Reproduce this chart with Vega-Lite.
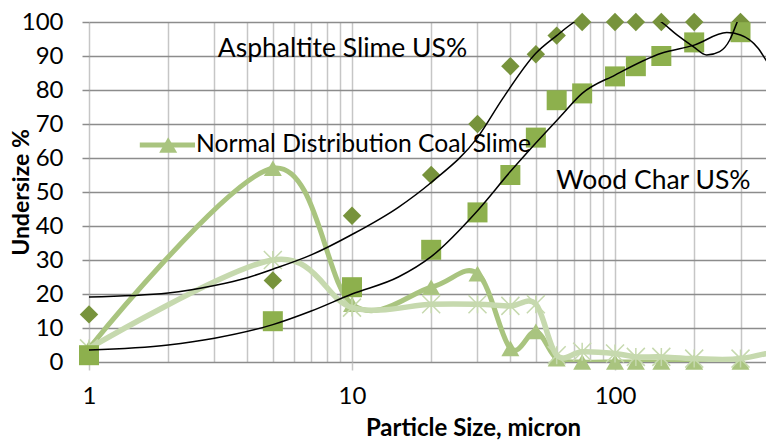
{
  "$schema": "https://vega.github.io/schema/vega-lite/v6.json",
  "width": 677,
  "height": 340,
  "autosize": {"type": "none"},
  "padding": {"left": 89, "top": 22, "right": 0, "bottom": 80},
  "background": "white",
  "config": {"view": {"stroke": null}, "font": "Lato"},
  "datasets": {
    "coal": [
      {"x": 1, "y": 4}, {"x": 5, "y": 57}, {"x": 10, "y": 17}, {"x": 20, "y": 22}, {"x": 30, "y": 26},
      {"x": 40, "y": 4}, {"x": 50, "y": 9}, {"x": 60, "y": 1}, {"x": 75, "y": 0}, {"x": 100, "y": 0},
      {"x": 120, "y": 0}, {"x": 150, "y": 0}, {"x": 200, "y": 0}, {"x": 300, "y": 0}
    ],
    "light": [
      {"x": 1, "y": 4}, {"x": 5, "y": 30}, {"x": 10, "y": 16}, {"x": 20, "y": 17}, {"x": 30, "y": 17},
      {"x": 40, "y": 16.5}, {"x": 50, "y": 17}, {"x": 60, "y": 2}, {"x": 75, "y": 3}, {"x": 100, "y": 2.5},
      {"x": 120, "y": 1.5}, {"x": 150, "y": 1.5}, {"x": 200, "y": 1}, {"x": 300, "y": 1}, {"x": 500, "y": 5}
    ],
    "asphaltite": [
      {"x": 1, "y": 14}, {"x": 5, "y": 24}, {"x": 10, "y": 43}, {"x": 20, "y": 55}, {"x": 30, "y": 70},
      {"x": 40, "y": 87}, {"x": 50, "y": 90.5}, {"x": 60, "y": 96}, {"x": 75, "y": 100}, {"x": 100, "y": 100},
      {"x": 120, "y": 100}, {"x": 150, "y": 100}, {"x": 200, "y": 100}, {"x": 300, "y": 100}
    ],
    "wood": [
      {"x": 1, "y": 2}, {"x": 5, "y": 12}, {"x": 10, "y": 22}, {"x": 20, "y": 33}, {"x": 30, "y": 44},
      {"x": 40, "y": 55}, {"x": 50, "y": 66}, {"x": 60, "y": 77}, {"x": 75, "y": 79}, {"x": 100, "y": 84},
      {"x": 120, "y": 87}, {"x": 150, "y": 90}, {"x": 200, "y": 94}, {"x": 300, "y": 97}
    ],
    "fitAsphaltite": [
      {"x": 1, "y": 19.1}, {"x": 2, "y": 20.3}, {"x": 3, "y": 22.5}, {"x": 4, "y": 24.8}, {"x": 5, "y": 27.3},
      {"x": 7, "y": 31.5}, {"x": 10, "y": 37.5}, {"x": 15, "y": 45.5}, {"x": 20, "y": 52.8}, {"x": 30, "y": 66},
      {"x": 37.5, "y": 77.6}, {"x": 50, "y": 90.8}, {"x": 60, "y": 96}, {"x": 70, "y": 100}, {"x": 85, "y": 103.5},
      {"x": 100, "y": 105}, {"x": 120, "y": 104}, {"x": 150, "y": 100}, {"x": 172, "y": 96.2}, {"x": 199, "y": 92.7},
      {"x": 223, "y": 90.3}, {"x": 250, "y": 91.3}, {"x": 273, "y": 94.7}, {"x": 290, "y": 99.6}, {"x": 320, "y": 108},
      {"x": 400, "y": 125}
    ],
    "fitWood": [
      {"x": 1, "y": 3.5}, {"x": 2, "y": 5}, {"x": 3, "y": 7}, {"x": 5, "y": 11}, {"x": 7, "y": 15},
      {"x": 10, "y": 20}, {"x": 15, "y": 25}, {"x": 20, "y": 31}, {"x": 30, "y": 44.5}, {"x": 40, "y": 56},
      {"x": 50, "y": 64.4}, {"x": 62, "y": 72.2}, {"x": 75, "y": 79}, {"x": 100, "y": 84.4}, {"x": 150, "y": 90.8},
      {"x": 200, "y": 93.2}, {"x": 266, "y": 96.9}, {"x": 300, "y": 96.2}, {"x": 350, "y": 92.3}, {"x": 375, "y": 88.8},
      {"x": 420, "y": 83}
    ],
    "labels": [
      {"x": 9.2, "y": 92, "label": "Asphaltite Slime US%"},
      {"x": 140, "y": 53.2, "label": "Wood Char US%"}
    ],
    "keyLabel": [
      {"x": 11.06, "y": 63.8, "label": "Normal Distribution Coal Slime"}
    ],
    "keyLine": [{"x": 1.56, "y": 63.8}, {"x": 2.53, "y": 63.8}],
    "keyMark": [{"x": 2.0, "y": 63.8}]
  },
  "encoding": {
    "x": {
      "field": "x", "type": "quantitative",
      "scale": {"type": "log", "domain": [1, 375], "nice": false},
      "axis": {
        "title": "Particle Size, micron",
        "values": [1, 2, 3, 4, 5, 6, 7, 8, 9, 10, 20, 30, 40, 50, 60, 70, 80, 90, 100, 200, 300],
        "labelExpr": "(datum.value == 1 || datum.value == 10 || datum.value == 100) ? format(datum.value, 'd') : ''",
        "grid": true, "gridColor": "#c6c6c6", "gridWidth": 1.5,
        "domain": false,
        "tickSize": 8, "tickWidth": 1.5,
        "tickColor": {"condition": {"test": "datum.value == 1 || datum.value == 10 || datum.value == 100", "value": "#c6c6c6"}, "value": "transparent"},
        "labelPadding": 14, "labelFontSize": 24, "labelFont": "Lato", "labelColor": "#000000",
        "labelFlush": false, "labelOverlap": false,
        "titleFontSize": 24, "titleFont": "Lato", "titleFontWeight": "bold", "titleColor": "#000000", "titlePadding": 8,
        "titleX": 384, "titleAlign": "center", "titleAnchor": "start"
      }
    },
    "y": {
      "field": "y", "type": "quantitative",
      "scale": {"domain": [0, 100], "nice": false},
      "axis": {
        "title": "Undersize %",
        "values": [0, 10, 20, 30, 40, 50, 60, 70, 80, 90, 100],
        "grid": true, "gridColor": "#8c8c8c", "gridWidth": 1.5,
        "domain": false,
        "tickSize": 7, "tickWidth": 1.5, "tickColor": "#8c8c8c",
        "labelPadding": 19, "labelFontSize": 24, "labelFont": "Lato", "labelColor": "#000000",
        "labelFlush": false, "labelOverlap": false,
        "titleFontSize": 23, "titleFont": "Lato", "titleFontWeight": "bold", "titleColor": "#000000", "titlePadding": -12
      }
    }
  },
  "layer": [
    {"data": {"name": "coal"}, "mark": {"type": "line", "interpolate": "cardinal", "color": "#A9C47F", "strokeWidth": 5, "clip": true}},
    {"data": {"name": "coal"}, "mark": {"type": "point", "shape": "triangle-up", "filled": true, "size": 324, "color": "#A9C47F", "opacity": 1}},
    {"data": {"name": "light"}, "mark": {"type": "line", "interpolate": "cardinal", "color": "#C6D9AE", "strokeWidth": 5.5, "clip": true}},
    {"data": {"name": "light"}, "transform": [{"filter": "datum.x <= 300"}], "mark": {"type": "point", "shape": "M-1,-1L1,1M-1,1L1,-1M0,-1L0,1", "filled": false, "size": 324, "color": "#C6D9AE", "strokeWidth": 1.5, "opacity": 1}},
    {"data": {"name": "asphaltite"}, "mark": {"type": "point", "shape": "diamond", "filled": true, "size": 340, "color": "#77933C", "opacity": 1}},
    {"data": {"name": "wood"}, "mark": {"type": "point", "shape": "square", "filled": true, "size": 400, "color": "#8DB04D", "opacity": 1}},
    {"data": {"name": "fitAsphaltite"}, "mark": {"type": "line", "interpolate": "monotone", "color": "#000000", "strokeWidth": 1.5, "clip": true}},
    {"data": {"name": "fitWood"}, "mark": {"type": "line", "interpolate": "monotone", "color": "#000000", "strokeWidth": 1.5, "clip": true}},
    {"data": {"name": "keyLine"}, "mark": {"type": "line", "color": "#A9C47F", "strokeWidth": 5}},
    {"data": {"name": "keyMark"}, "mark": {"type": "point", "shape": "triangle-up", "filled": true, "size": 324, "color": "#A9C47F", "opacity": 1}},
    {"data": {"name": "labels"}, "mark": {"type": "text", "font": "Lato", "fontSize": 26.5, "color": "#000000", "align": "center", "baseline": "middle"}, "encoding": {"text": {"field": "label", "type": "nominal"}}},
    {"data": {"name": "keyLabel"}, "mark": {"type": "text", "font": "Lato", "fontSize": 24.7, "color": "#000000", "align": "center", "baseline": "middle"}, "encoding": {"text": {"field": "label", "type": "nominal"}}}
  ]
}
